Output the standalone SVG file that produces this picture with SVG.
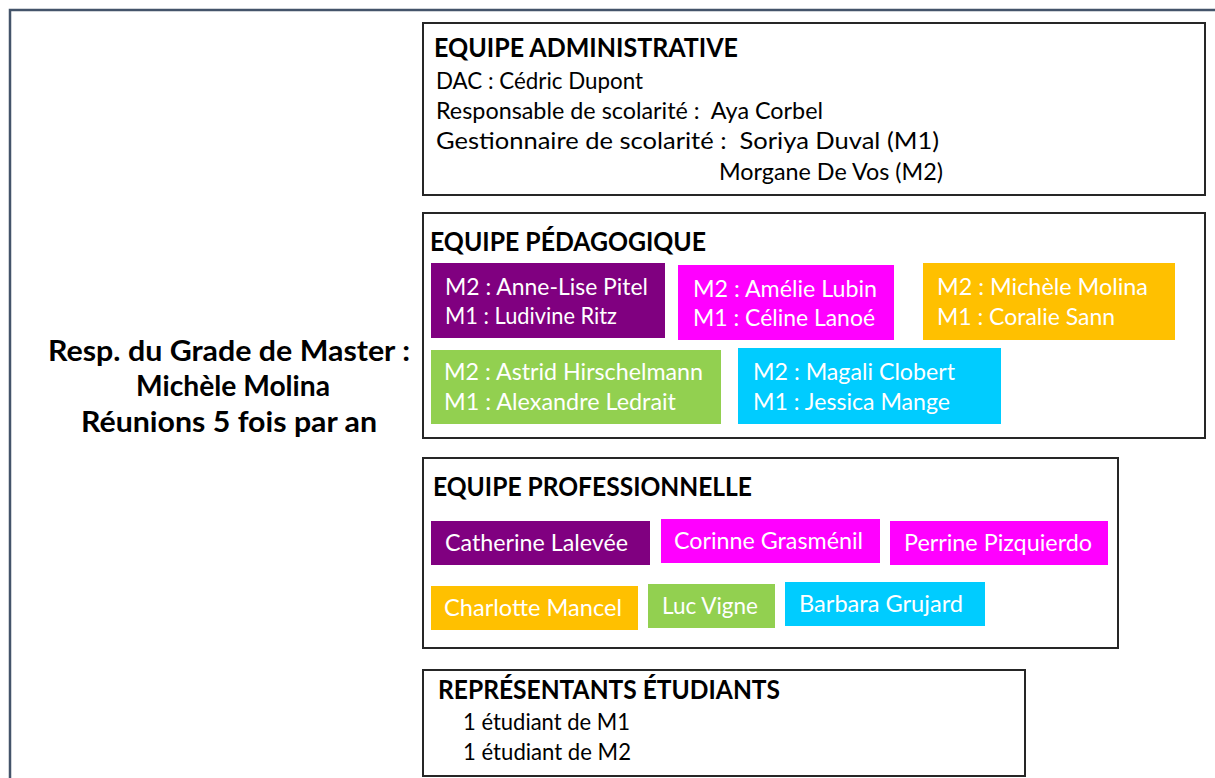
<svg xmlns="http://www.w3.org/2000/svg" width="1215" height="778" viewBox="0 0 1215 778">
<style>
text{font-family:Lato,"Open Sans","Liberation Sans",sans-serif;}
.box{fill:#fff;stroke:#262626;stroke-width:2;}
.h{font-size:26px;font-weight:bold;fill:#000;}
.b{font-size:23.5px;fill:#000;}
.w{font-size:23.5px;fill:#fff;}
.lead{font-size:28.5px;font-weight:bold;fill:#000;}
.pu{fill:#800080;}.mg{fill:#FF00FF;}.or{fill:#FFC000;}.gr{fill:#92D050;}.cy{fill:#00CCFF;}
</style>
<rect x="10" y="10" width="1225" height="800" fill="#fff" stroke="#44546A" stroke-width="2.5"/>
<g id="connectors"></g>
<g id="resp">
<text class="lead" x="229" y="361" text-anchor="middle" textLength="362" lengthAdjust="spacingAndGlyphs">Resp. du Grade de Master :</text>
<text class="lead" x="233" y="396" text-anchor="middle" textLength="194" lengthAdjust="spacingAndGlyphs">Michèle Molina</text>
<text class="lead" x="229" y="432" text-anchor="middle" textLength="296" lengthAdjust="spacingAndGlyphs">Réunions 5 fois par an</text>
</g>
<g id="admin">
<rect class="box" x="423" y="23" width="782" height="172"/>
<text class="h" x="434" y="57" textLength="304" lengthAdjust="spacingAndGlyphs">EQUIPE ADMINISTRATIVE</text>
<text class="b" x="436" y="89" textLength="207" lengthAdjust="spacingAndGlyphs">DAC : Cédric Dupont</text>
<text class="b" x="436" y="119" textLength="387" lengthAdjust="spacingAndGlyphs" xml:space="preserve">Responsable de scolarité :  Aya Corbel</text>
<text class="b" x="436" y="149" textLength="503" lengthAdjust="spacingAndGlyphs" xml:space="preserve">Gestionnaire de scolarité :  Soriya Duval (M1)</text>
<text class="b" x="719" y="180" textLength="224" lengthAdjust="spacingAndGlyphs">Morgane De Vos (M2)</text>
</g>
<g id="pedago">
<rect class="box" x="423" y="213" width="782" height="225"/>
<text class="h" x="430" y="251" textLength="276" lengthAdjust="spacingAndGlyphs">EQUIPE PÉDAGOGIQUE</text>
<g id="ped-purple">
<rect class="pu" x="431" y="263" width="234" height="75"/>
<text class="w" x="445" y="295" textLength="203" lengthAdjust="spacingAndGlyphs">M2 : Anne-Lise Pitel</text>
<text class="w" x="445" y="324" textLength="172" lengthAdjust="spacingAndGlyphs">M1 : Ludivine Ritz</text>
</g>
<g id="ped-magenta">
<rect class="mg" x="678" y="265" width="216" height="75"/>
<text class="w" x="693" y="297" textLength="184" lengthAdjust="spacingAndGlyphs">M2 : Amélie Lubin</text>
<text class="w" x="693" y="326" textLength="182" lengthAdjust="spacingAndGlyphs">M1 : Céline Lanoé</text>
</g>
<g id="ped-orange">
<rect class="or" x="923" y="263" width="252" height="77"/>
<text class="w" x="937" y="295" textLength="211" lengthAdjust="spacingAndGlyphs">M2 : Michèle Molina</text>
<text class="w" x="937" y="325" textLength="178" lengthAdjust="spacingAndGlyphs">M1 : Coralie Sann</text>
</g>
<g id="ped-green">
<rect class="gr" x="431" y="350" width="290" height="74"/>
<text class="w" x="444" y="380" textLength="259" lengthAdjust="spacingAndGlyphs">M2 : Astrid Hirschelmann</text>
<text class="w" x="444" y="410" textLength="232" lengthAdjust="spacingAndGlyphs">M1 : Alexandre Ledrait</text>
</g>
<g id="ped-cyan">
<rect class="cy" x="738" y="348" width="263" height="76"/>
<text class="w" x="753" y="380" textLength="202" lengthAdjust="spacingAndGlyphs">M2 : Magali Clobert</text>
<text class="w" x="753" y="410" textLength="197" lengthAdjust="spacingAndGlyphs">M1 : Jessica Mange</text>
</g>
</g>
<g id="pro">
<rect class="box" x="423" y="458" width="695" height="190"/>
<text class="h" x="433" y="496" textLength="319" lengthAdjust="spacingAndGlyphs">EQUIPE PROFESSIONNELLE</text>
<g id="pro-lalevee"><rect class="pu" x="431" y="521" width="219" height="44"/>
<text class="w" x="445" y="551" textLength="183" lengthAdjust="spacingAndGlyphs">Catherine Lalevée</text></g>
<g id="pro-grasmenil"><rect class="mg" x="661" y="519" width="219" height="44"/>
<text class="w" x="674" y="549" textLength="189" lengthAdjust="spacingAndGlyphs">Corinne Grasménil</text></g>
<g id="pro-pizquierdo"><rect class="mg" x="890" y="521" width="218" height="44"/>
<text class="w" x="904" y="551" textLength="188" lengthAdjust="spacingAndGlyphs">Perrine Pizquierdo</text></g>
<g id="pro-mancel"><rect class="or" x="431" y="586" width="207" height="44"/>
<text class="w" x="444" y="616" textLength="178" lengthAdjust="spacingAndGlyphs">Charlotte Mancel</text></g>
<g id="pro-vigne"><rect class="gr" x="648" y="584" width="127" height="44"/>
<text class="w" x="662" y="614" textLength="96" lengthAdjust="spacingAndGlyphs">Luc Vigne</text></g>
<g id="pro-grujard"><rect class="cy" x="785" y="582" width="200" height="44"/>
<text class="w" x="799" y="612" textLength="164" lengthAdjust="spacingAndGlyphs">Barbara Grujard</text></g>
</g>
<g id="etudiants">
<rect class="box" x="423" y="670" width="602" height="106"/>
<text class="h" x="438" y="699" textLength="342" lengthAdjust="spacingAndGlyphs">REPRÉSENTANTS ÉTUDIANTS</text>
<text class="b" x="463" y="730" textLength="167" lengthAdjust="spacingAndGlyphs">1 étudiant de M1</text>
<text class="b" x="463" y="760" textLength="168" lengthAdjust="spacingAndGlyphs">1 étudiant de M2</text>
</g>
</svg>
